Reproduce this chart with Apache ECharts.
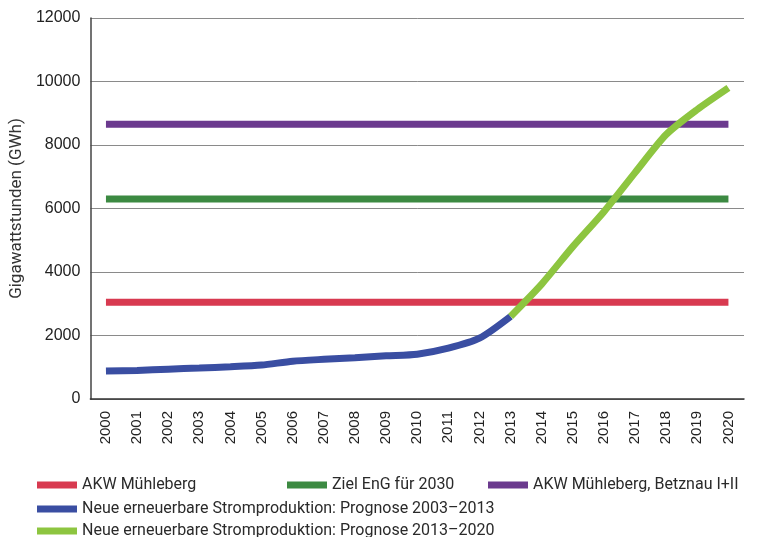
<!DOCTYPE html>
<html><head><meta charset="utf-8">
<script src="https://cdn.jsdelivr.net/npm/echarts@6/dist/echarts.min.js"></script>
<style>html,body{margin:0;padding:0;background:#fff}#c{width:758px;height:537px}</style>
</head><body><div id="c"></div>
<script>
const years = ['2000','2001','2002','2003','2004','2005','2006','2007','2008','2009','2010','2011','2012','2013','2014','2015','2016','2017','2018','2019','2020'];
const akwMuehleberg = [3050,3050,3050,3050,3050,3050,3050,3050,3050,3050,3050,3050,3050,3050,3050,3050,3050,3050,3050,3050,3050];
const zielEnG = [6300,6300,6300,6300,6300,6300,6300,6300,6300,6300,6300,6300,6300,6300,6300,6300,6300,6300,6300,6300,6300];
const akwBetznau = [8650,8650,8650,8650,8650,8650,8650,8650,8650,8650,8650,8650,8650,8650,8650,8650,8650,8650,8650,8650,8650];
const prognose0313 = [880,900,940,975,1015,1070,1190,1250,1300,1360,1410,1600,1915,2600,null,null,null,null,null,null,null];
const prognose1320 = [null,null,null,null,null,null,null,null,null,null,null,null,null,2600,3620,4800,5900,7130,8330,9120,9800];
const names = ['AKW Mühleberg','Ziel EnG für 2030','AKW Mühleberg, Betznau I+II','Neue erneuerbare Stromproduktion: Prognose 2003–2013','Neue erneuerbare Stromproduktion: Prognose 2013–2020'];
const colors = ['#d83a50','#3c8a42','#6b3a8e','#3a4ea2','#8dc540'];

const chart = echarts.init(document.getElementById('c'), null, {renderer:'canvas'});
const legendBase = {
  icon:'rect', itemWidth:40, itemHeight:7, itemGap:0, selectedMode:false,
  textStyle:{fontFamily:'Roboto', fontSize:16, color:'#2a2a2a', padding:[0,0,0,0]}
};
const legendPos = [[32,472],[282,472],[483,472],[32,496],[32,518]];
chart.setOption({
  animation:false,
  backgroundColor:'#fff',
  color: colors,
  grid:{left:90, right:14, top:18, bottom:138, containLabel:false},
  legend: names.map((n,i)=>Object.assign({}, legendBase, {data:[n], left:legendPos[i][0], top:legendPos[i][1]})),
  xAxis:{
    type:'category', data:years, boundaryGap:true,
    axisLine:{lineStyle:{color:'#333', width:1.5}},
    axisTick:{show:false},
    axisLabel:{rotate:90, margin:12, fontFamily:'Liberation Sans', fontSize:15, color:'#222', interval:0}
  },
  yAxis:{
    type:'value', min:0, max:12000, interval:2000,
    name:'Gigawattstunden (GWh)', nameLocation:'middle', nameGap:62,
    nameTextStyle:{fontFamily:'Roboto', fontSize:17, color:'#333'},
    axisLine:{show:true, lineStyle:{color:'#444', width:1.5}},
    axisTick:{show:false},
    axisLabel:{fontFamily:'Liberation Sans', fontSize:16, color:'#222', margin:10, formatter:(v)=>String(v)},
    splitLine:{lineStyle:{color:'#8a8a8a', width:1}}
  },
  series:[
    {name:names[0], type:'line', data:akwMuehleberg, symbol:'none', lineStyle:{width:7}},
    {name:names[1], type:'line', data:zielEnG, symbol:'none', lineStyle:{width:7}},
    {name:names[2], type:'line', data:akwBetznau, symbol:'none', lineStyle:{width:7}},
    {name:names[3], type:'line', data:prognose0313, symbol:'none', smooth:0.25, lineStyle:{width:7}, z:3},
    {name:names[4], type:'line', data:prognose1320, symbol:'none', smooth:0.25, lineStyle:{width:7}, z:3}
  ]
});
</script></body></html>
